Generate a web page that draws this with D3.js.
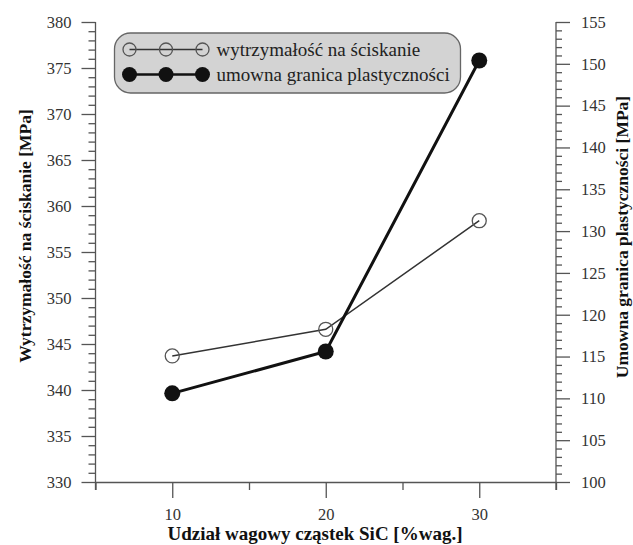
<!DOCTYPE html>
<html>
<head>
<meta charset="utf-8">
<script src="https://cdn.jsdelivr.net/npm/d3@7"></script>
<style>
	html, body { margin: 0; padding: 0; background: #fff; }
	.tick text { fill: #333; font-size: 16.5px; }
	.axis path, .axis line { stroke: #555; stroke-width: 1.3; }
	.title { font-weight: bold; font-size: 17.5px; fill: #111; }
</style>
</head>
<body>
<div id="chart"></div>
<script>
// udział SiC [%wag.]
var sicContent = [10, 20, 30];
// wytrzymałość na ściskanie [MPa] (oś lewa)
var compressiveStrength = [343.7, 346.6, 358.4];
// umowna granica plastyczności [MPa] (oś prawa)
var yieldStrength = [110.6, 115.6, 150.4];

var xMajorTicks = [10, 20, 30];
var xMinorTicks = [5, 15, 25, 35];
var leftTicks = d3.range(330, 381, 5);
var rightTicks = d3.range(100, 156, 5);

var legendLabels = ["wytrzymałość na ściskanie", "umowna granica plastyczności"];

var width = 633, height = 545;
var plot = { left: 95.5, right: 556, top: 22, bottom: 482 };
var serif = "'Liberation Serif', 'Times New Roman', Times, serif";

var svg = d3.select("#chart").append("svg")
	.attr("width", width)
	.attr("height", height)
	.attr("font-family", serif)
	.style("display", "block");

var x = d3.scaleLinear().domain([5, 35]).range([plot.left, plot.right]);
var yLeft = d3.scaleLinear().domain([330, 380]).range([plot.bottom, plot.top]);
var yRight = d3.scaleLinear().domain([100, 155]).range([plot.bottom, plot.top]);

function minorOf(lo, hi){
	return d3.range(lo, hi + 1, 1).filter(function(v){ return v % 5 !== 0; });
}

function serifAxis(g){
	g.attr("font-family", serif).attr("font-size", null);
	g.selectAll("text").attr("font-family", serif);
}

// left axis
svg.append("g").attr("class", "axis")
	.attr("transform", "translate(" + plot.left + ",0)")
	.call(d3.axisLeft(yLeft).tickValues(minorOf(330, 380)).tickSize(7).tickFormat("").tickSizeOuter(0))
	.call(function(g){ g.select(".domain").remove(); });
svg.append("g").attr("class", "axis")
	.attr("transform", "translate(" + plot.left + ",0)")
	.call(d3.axisLeft(yLeft).tickValues(leftTicks).tickSize(14).tickPadding(10).tickSizeOuter(0))
	.call(function(g){ g.select(".domain").attr("d", "M0," + plot.top + "V" + (plot.bottom + 8)); })
	.call(serifAxis);

// right axis
svg.append("g").attr("class", "axis")
	.attr("transform", "translate(" + plot.right + ",0)")
	.call(d3.axisRight(yRight).tickValues(minorOf(100, 155)).tickSize(6).tickFormat("").tickSizeOuter(0))
	.call(function(g){ g.select(".domain").remove(); });
svg.append("g").attr("class", "axis")
	.attr("transform", "translate(" + plot.right + ",0)")
	.call(d3.axisRight(yRight).tickValues(rightTicks).tickSize(14).tickPadding(11).tickSizeOuter(0))
	.call(function(g){ g.select(".domain").attr("d", "M0," + plot.top + "V" + (plot.bottom + 8)); })
	.call(serifAxis);

// bottom axis
svg.append("g").attr("class", "axis")
	.attr("transform", "translate(0," + plot.bottom + ")")
	.call(d3.axisBottom(x).tickValues(xMinorTicks).tickSize(8).tickFormat("").tickSizeOuter(0))
	.call(function(g){ g.select(".domain").remove(); });
svg.append("g").attr("class", "axis")
	.attr("transform", "translate(0," + plot.bottom + ")")
	.call(d3.axisBottom(x).tickValues(xMajorTicks).tickSize(16).tickPadding(10).tickSizeOuter(0))
	.call(serifAxis);

// axis titles
svg.append("text").attr("class", "title")
	.attr("transform", "translate(31,236) rotate(-90)")
	.attr("text-anchor", "middle")
	.text("Wytrzymałość na ściskanie [MPa]");

svg.append("text").attr("class", "title")
	.attr("transform", "translate(628,237) rotate(-90)")
	.attr("text-anchor", "middle")
	.text("Umowna granica plastyczności [MPa]");

svg.append("text").attr("class", "title")
	.attr("x", 315)
	.attr("y", 540)
	.attr("text-anchor", "middle")
	.style("font-size", "19px")
	.text("Udział wagowy cząstek SiC [%wag.]");

// series
var seriesA = sicContent.map(function(v, i){ return { x: v, y: compressiveStrength[i] }; });
var seriesB = sicContent.map(function(v, i){ return { x: v, y: yieldStrength[i] }; });

svg.append("path")
	.datum(seriesA)
	.attr("fill", "none")
	.attr("stroke", "#333")
	.attr("stroke-width", 1.5)
	.attr("d", d3.line().x(function(d){ return x(d.x); }).y(function(d){ return yLeft(d.y); }));

svg.append("path")
	.datum(seriesB)
	.attr("fill", "none")
	.attr("stroke", "#111")
	.attr("stroke-width", 3)
	.attr("d", d3.line().x(function(d){ return x(d.x); }).y(function(d){ return yRight(d.y); }));

svg.append("g").selectAll("circle")
	.data(seriesA)
	.enter().append("circle")
		.attr("cx", function(d){ return x(d.x); })
		.attr("cy", function(d){ return yLeft(d.y); })
		.attr("r", 7)
		.attr("fill", "none")
		.attr("stroke", "#555")
		.attr("stroke-width", 1.3);

svg.append("g").selectAll("circle")
	.data(seriesB)
	.enter().append("circle")
		.attr("cx", function(d){ return x(d.x); })
		.attr("cy", function(d){ return yRight(d.y); })
		.attr("r", 8)
		.attr("fill", "#111");

// legend
var legend = svg.append("g").attr("transform", "translate(114.5,33)");

legend.append("rect")
	.attr("width", 346)
	.attr("height", 60)
	.attr("rx", 16)
	.attr("ry", 16)
	.attr("fill", "#d3d3d3")
	.attr("stroke", "#666")
	.attr("stroke-width", 1.3);

var rows = legend.selectAll("g.row")
	.data(legendLabels)
	.enter().append("g")
		.attr("class", "row")
		.attr("transform", function(d, i){ return "translate(0," + (16.5 + i * 25) + ")"; });

rows.append("line")
	.attr("x1", 15).attr("x2", 88)
	.attr("stroke", function(d, i){ return i ? "#111" : "#333"; })
	.attr("stroke-width", function(d, i){ return i ? 2.5 : 1.5; });

rows.each(function(d, i){
	d3.select(this).selectAll("circle")
		.data([15, 51.5, 88])
		.enter().append("circle")
			.attr("cx", function(v){ return v; })
			.attr("r", i ? 7.5 : 6.5)
			.attr("fill", i ? "#111" : "none")
			.attr("stroke", i ? "none" : "#555")
			.attr("stroke-width", 1.3);
});

rows.append("text")
	.attr("x", 102)
	.attr("y", 6)
	.attr("font-size", 19)
	.attr("font-family", serif)
	.attr("fill", "#222")
	.text(function(d){ return d; });
</script>
</body>
</html>
